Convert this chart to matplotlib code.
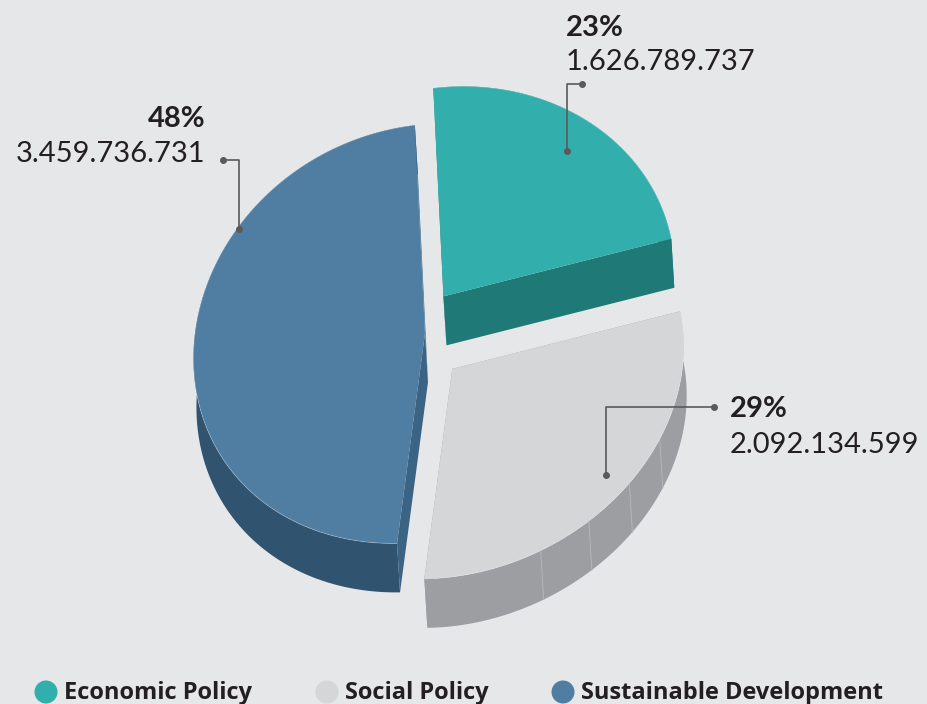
import numpy as np
import matplotlib
matplotlib.use("Agg")
import matplotlib.pyplot as plt
from matplotlib.patches import Polygon, Circle

# data
labels = ["Economic Policy", "Social Policy", "Sustainable Development"]
values = [1626789737, 2092134599, 3459736731]
pct_labels = ["23%", "29%", "48%"]
value_labels = ["1.626.789.737", "2.092.134.599", "3.459.736.731"]

# style
bg = "#e6e7e9"
top_colors = ["#32afac", "#d5d6d8", "#507da2"]
side_colors = ["#1f7a77", "#9c9ea1", "#30536f"]
face_colors = ["#1f7a77", "#9c9ea1", "#3b6384"]
explode = [48, 66, 6]
text_color = "#231f20"
line_color = "#5a5a5a"

# fake 3d geometry, in pixels
cx, cy = 428, 333
rx, ry = 230, 210
shear, bend = 0.113, -0.026
depth = np.array([3.0, 49.0])
start = 97.5
squash = 0.5

plt.rcParams["font.family"] = ["Lato", "DejaVu Sans"]

fig = plt.figure(figsize=(9.28, 7.04), dpi=100, facecolor=bg)
ax = fig.add_axes([0, 0, 1, 1])
ax.set_xlim(0, 928)
ax.set_ylim(704, 0)
ax.axis("off")


def rim(phi, off, r=1.0):
    p = np.radians(phi)
    s = r * np.sin(p)
    x = cx + off[0] + rx * (r * np.cos(p) + shear * s + bend * s * s)
    y = cy + off[1] - ry * s
    return np.column_stack([x, y])


fracs = np.array(values) / np.sum(values)
spans = 360 * fracs
a1 = start - np.concatenate([[0], np.cumsum(spans)[:-1]])
a2 = a1 - spans
mids = (a1 + a2) / 2

offsets = []
for i in range(3):
    b = np.radians(mids[i])
    offsets.append(np.array([explode[i] * squash * (np.cos(b) + shear * np.sin(b)),
                             -explode[i] * ry / rx * np.sin(b)]))

# back to front
order = np.argsort(-np.sin(np.radians(mids)))
seams = {1: [3, 4, 5, 6]}

for i in order:
    off = offsets[i]
    phis = np.linspace(a1[i], a2[i], 200)
    top = rim(phis, off)
    bot = top + depth
    apex = np.array([cx, cy]) + off
    apex_b = apex + depth

    ax.add_patch(Polygon(np.vstack([top, bot[::-1]]), closed=True,
                         facecolor=side_colors[i], edgecolor="none"))
    for k in seams.get(i, []):
        p = rim(np.array([a1[i] - k * 13.47 + 5]), off)[0]
        ax.plot([p[0], p[0] + depth[0]], [p[1], p[1] + depth[1]],
                color="#b4b5b8", lw=0.7)
    for end in (0, -1):
        ax.add_patch(Polygon([apex, top[end], bot[end], apex_b], closed=True,
                             facecolor=face_colors[i], edgecolor="none"))
    ax.add_patch(Polygon(np.vstack([[apex], top]), closed=True,
                         facecolor=top_colors[i], edgecolor="none"))
    ax.plot(top[:, 0], top[:, 1], color="white", lw=0.6, alpha=0.3)

# leader lines + labels
anchor_ang = [mids[0] - 1, mids[1] + 2, 150]
anchor_r = [0.84, 0.89, 0.99]
elbow_y = [84, 407, 160]
end_x = [582, 714, 223]
pct_pos = [(566, 36, "left"), (730, 417, "left"), (206, 127, "right")]
val_pos = [(566, 70, "left"), (730, 453, "left"), (205, 162, "right")]

for i in range(3):
    d = rim(np.array([anchor_ang[i]]), offsets[i], anchor_r[i])[0]
    ax.plot([d[0], d[0], end_x[i]], [d[1], elbow_y[i], elbow_y[i]],
            color=line_color, lw=1.2, solid_capstyle="butt")
    ax.plot([d[0], end_x[i]], [d[1], elbow_y[i]], "o", color=line_color, ms=4)
    ax.text(pct_pos[i][0], pct_pos[i][1], pct_labels[i], ha=pct_pos[i][2],
            va="baseline", fontsize=21, fontweight="bold", color=text_color)
    ax.text(val_pos[i][0], val_pos[i][1], value_labels[i], ha=val_pos[i][2],
            va="baseline", fontsize=21, fontweight="normal", color=text_color)

# legend
leg_x = [46, 327, 563]
for i in range(3):
    ax.add_patch(Circle((leg_x[i], 692), 11.5, facecolor=top_colors[i], edgecolor="none"))
    ax.text(leg_x[i] + 18, 699, labels[i], ha="left", va="baseline",
            fontsize=17, fontweight="bold", color=text_color,
            family=["Open Sans", "DejaVu Sans"])

fig.savefig("out.png", dpi=100, facecolor=bg)
